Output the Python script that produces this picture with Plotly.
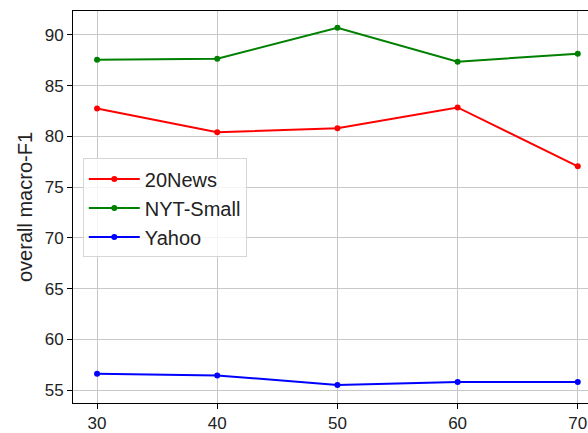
import plotly.graph_objects as go

x_vals = [30, 40, 50, 60, 70]
news20 = [82.75, 80.4, 80.8, 82.85, 77.05]
nyt_small = [87.55, 87.65, 90.7, 87.35, 88.15]
yahoo = [56.6, 56.45, 55.5, 55.8, 55.8]
series_names = ["20News", "NYT-Small", "Yahoo"]
colors = ["#ff0000", "#008000", "#0000ff"]
y_ticks = [55, 60, 65, 70, 75, 80, 85, 90]
x_ticks = [30, 40, 50, 60, 70]

fig = go.Figure()
for name, vals, c in zip(series_names, [news20, nyt_small, yahoo], colors):
    fig.add_trace(go.Scatter(x=x_vals, y=vals, name=name, mode="lines+markers",
                             line=dict(color=c, width=2), marker=dict(color=c, size=6)))

fig.update_layout(
    width=588, height=433,
    margin=dict(l=73, r=0, t=11, b=28),
    plot_bgcolor="white", paper_bgcolor="white",
    font=dict(family="Liberation Sans", color="#222222"),
    showlegend=True,
    legend=dict(x=0.019, y=0.624, xanchor="left", yanchor="top",
                bgcolor="rgba(255,255,255,0.8)", bordercolor="#d6d6d6", borderwidth=1,
                font=dict(size=20, color="#222222"), tracegroupgap=0, itemwidth=51),
)
fig.update_xaxes(range=[28, 70.85], tickvals=x_ticks, showgrid=True, gridcolor="#c8c8c8", gridwidth=1,
                 showline=True, linecolor="black", linewidth=1, mirror=True,
                 ticks="outside", ticklen=5, tickcolor="black", tickfont=dict(size=17), zeroline=False)
fig.update_yaxes(range=[53.73, 92.35], tickvals=y_ticks, showgrid=True, gridcolor="#c8c8c8", gridwidth=1,
                 showline=True, linecolor="black", linewidth=1,
                 ticks="outside", ticklen=5, tickcolor="black", tickfont=dict(size=17), zeroline=False,
                 title=dict(text="overall macro-F1", font=dict(size=20), standoff=6))

fig.write_html("out.html", config={"displayModeBar": False},
               post_script="document.body.style.margin='0';document.body.style.overflow='hidden';")
